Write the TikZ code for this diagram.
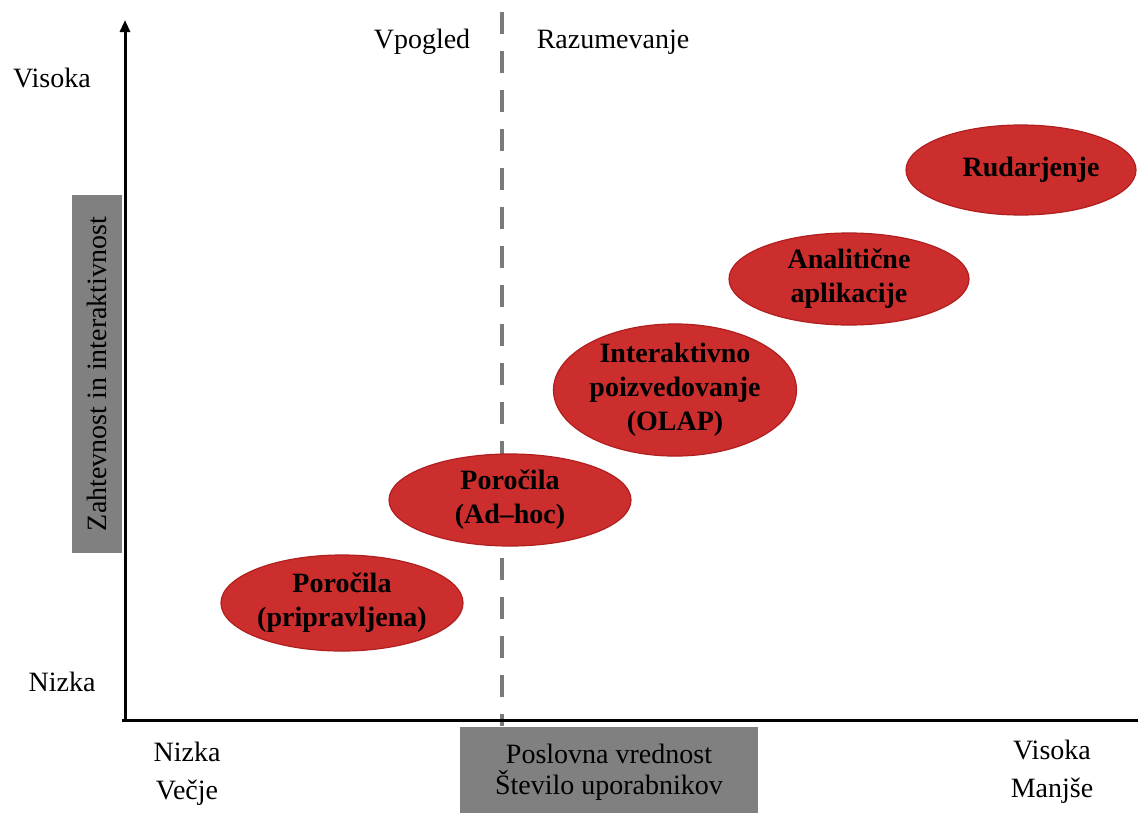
\documentclass[tikz,border=0pt]{standalone}
\usepackage{fontspec}
\setmainfont{Liberation Serif}
\usetikzlibrary{shapes.geometric,arrows.meta}
\definecolor{blobred}{HTML}{CC2E2E}
\definecolor{blobedge}{HTML}{B01E1E}
\definecolor{panelgray}{HTML}{808080}
\definecolor{divgray}{HTML}{7A7A7A}
\tikzset{
  blob/.style={ellipse, fill=blobred, draw=blobedge, line width=1.2pt, inner sep=0pt,
    align=center, font=\fontsize{28}{34}\selectfont\bfseries},
  lbl/.style={align=center, inner sep=0pt, font=\fontsize{28}{38}\selectfont},
  panel/.style={fill=panelgray, draw=none, inner sep=0pt},
  axisline/.style={line width=3pt, black},
}
\begin{document}
\begin{tikzpicture}[x=1pt, y=-1pt]
\useasboundingbox (0,0) rectangle (1138,812);

% grey panels behind the axes
\node[panel, rotate=90, minimum width=358pt, minimum height=50pt,
      font=\fontsize{28}{34}\selectfont] (ylab) at (97,374) {Zahtevnost in interaktivnost};

\node[panel, minimum width=298pt, minimum height=86pt, anchor=north west] (xlab) at (460,727) {};
\node[align=center, inner sep=0pt, font=\fontsize{28}{31}\selectfont] (xtxt) at (609,772) {Poslovna vrednost\\Število uporabnikov};

% divider between the two zones
\coordinate (dtop) at (502,12);
\coordinate (dbot) at (502,726);
\draw[divgray, line width=4pt, dash pattern=on 22pt off 17pt] (dtop) -- (dbot);

% axes
\coordinate (orig) at (125,720);
\coordinate (ytip) at (125,20);
\coordinate (xend) at (1138,720);
\draw[axisline, -{Triangle[length=12pt, width=10pt]}] (orig) -- (ytip);
\draw[axisline] (122,720) -- (xend);

% scale labels
\node[lbl] (yhi) at (52,78) {Visoka};
\node[lbl] (ylo) at (62,682) {Nizka};
\node[lbl] (xlo) at (187,774) {Nizka\\Večje};
\node[lbl] (xhi) at (1052,772) {Visoka\\Manjše};
\node[lbl] (zl) at (422,42) {Vpogled};
\node[lbl] (zr) at (613,42) {Razumevanje};

% stages
\node[blob, minimum width=242pt, minimum height=96pt] (s1) at (342,603) {Poročila\\(pripravljena)};
\node[blob, minimum width=242pt, minimum height=92pt] (s2) at (510,500) {Poročila\\(Ad–hoc)};
\node[blob, minimum width=243pt, minimum height=103pt] (s3) at (675,390) {Interaktivno\\poizvedovanje\\(OLAP)};
\node[blob, minimum width=240pt, minimum height=92pt] (s4) at (849,279) {Analitične\\aplikacije};
\node[blob, minimum width=230pt, minimum height=90pt] (s5) at (1021,170) {\hspace*{20pt}Rudarjenje};
\end{tikzpicture}
\end{document}
